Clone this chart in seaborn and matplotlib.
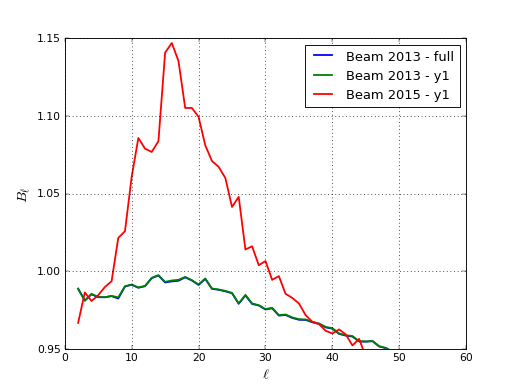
import matplotlib
matplotlib.use("Agg")
import matplotlib.pyplot as plt
import seaborn as sns
import pandas as pd

ell_red = list(range(2, 46))
beam2015_y1 = [0.9669, 0.9865, 0.9810, 0.9847, 0.9900, 0.9937, 1.0216, 1.0259, 1.0608, 1.0859,
               1.0790, 1.0769, 1.0838, 1.1408, 1.1470, 1.1354, 1.1052, 1.1052, 1.0995, 1.0812,
               1.0711, 1.0673, 1.0602, 1.0415, 1.0480, 1.0141, 1.0162, 1.0040, 1.0067, 0.9946,
               0.9970, 0.9856, 0.9830, 0.9794, 0.9719, 0.9676, 0.9661, 0.9618, 0.9601, 0.9627,
               0.9595, 0.9524, 0.9566, 0.9450]

ell_green = list(range(2, 50))
beam2013_y1 = [0.9890, 0.9811, 0.9856, 0.9836, 0.9834, 0.9843, 0.9833, 0.9905, 0.9916, 0.9897,
               0.9907, 0.9959, 0.9976, 0.9933, 0.9942, 0.9946, 0.9965, 0.9944, 0.9916, 0.9955,
               0.9890, 0.9884, 0.9875, 0.9862, 0.9794, 0.9849, 0.9794, 0.9783, 0.9758, 0.9766,
               0.9719, 0.9723, 0.9704, 0.9693, 0.9691, 0.9676, 0.9665, 0.9643, 0.9635, 0.9601,
               0.9590, 0.9584, 0.9552, 0.9550, 0.9553, 0.9519, 0.9508, 0.9485]
beam2013_full = [0.9888, 0.9813, 0.9853, 0.9834, 0.9834, 0.9841, 0.9826, 0.9903, 0.9914, 0.9895,
                 0.9905, 0.9957, 0.9974, 0.9929, 0.9936, 0.9940, 0.9962, 0.9942, 0.9913, 0.9952,
                 0.9888, 0.9882, 0.9872, 0.9860, 0.9792, 0.9846, 0.9791, 0.9781, 0.9755, 0.9763,
                 0.9716, 0.9720, 0.9701, 0.9689, 0.9688, 0.9673, 0.9663, 0.9640, 0.9632, 0.9598,
                 0.9587, 0.9581, 0.9549, 0.9548, 0.9551, 0.9517, 0.9506, 0.9483]

plt.style.use("classic")
plt.rcParams["savefig.facecolor"] = "white"
plt.rcParams["figure.facecolor"] = "white"

fig = plt.figure(figsize=(8, 6), dpi=64.75)
ax = fig.add_axes([0.125, 0.1, 0.775, 0.8])

sns.lineplot(x=ell_green, y=beam2013_full, ax=ax, color="blue", lw=2, label="Beam 2013 - full")
sns.lineplot(x=ell_green, y=beam2013_y1, ax=ax, color="green", lw=2, label="Beam 2013 - y1")
sns.lineplot(x=ell_red, y=beam2015_y1, ax=ax, color="red", lw=2, label="Beam 2015 - y1")

ax.set_xlim(0, 60)
ax.set_ylim(0.95, 1.15)
ax.set_xticks([0, 10, 20, 30, 40, 50, 60])
ax.set_yticks([0.95, 1.00, 1.05, 1.10, 1.15])
ax.grid(True, linestyle=":", color="black", lw=0.8)
ax.set_xlabel(r"$\ell$", fontsize=16)
ax.set_ylabel(r"$B_\ell$", fontsize=16)
ax.legend(loc="upper right", fontsize=14.4)

fig.savefig("out.png", dpi=64.75)
